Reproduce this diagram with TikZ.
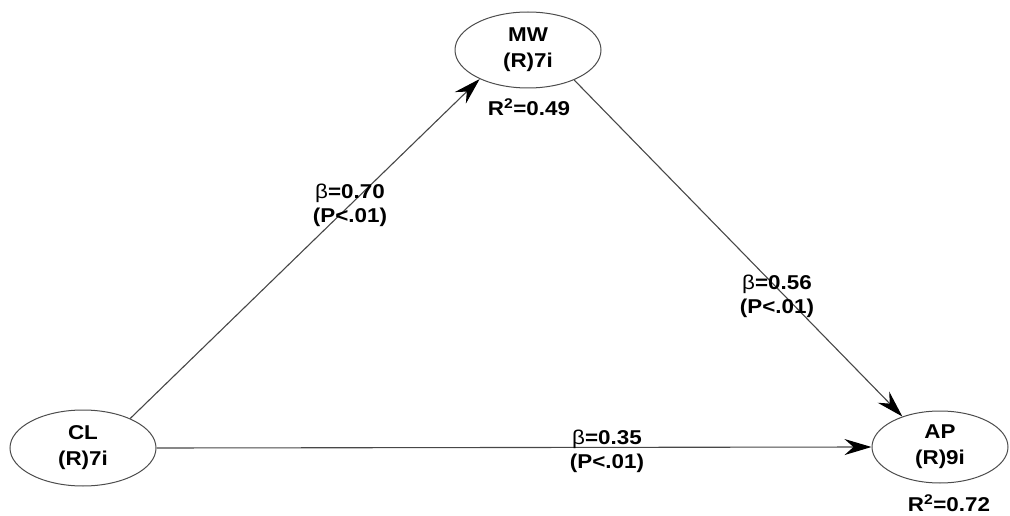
\documentclass[tikz,border=0pt]{standalone}
\usepackage{fontspec}
\setmainfont{Liberation Sans}[FakeStretch=1.12]
\usetikzlibrary{arrows.meta,shapes.geometric}
\begin{document}
\begin{tikzpicture}[x=1pt,y=-1pt,
  latent/.style={ellipse, draw=black!70, line width=1pt, inner sep=0pt,
    minimum width=146pt, minimum height=76pt,
    font=\bfseries\fontsize{20}{26}\selectfont, align=center},
  pathline/.style={draw=black!72, line width=1.1pt,
    -{Stealth[length=27pt,width=16pt,inset=9pt,black]}},
  lab/.style={font=\bfseries\fontsize{20}{24}\selectfont, align=center, inner sep=0pt}]
\useasboundingbox (0,0) rectangle (1010,516);
\node[latent] (MW) at (528,50) {MW\\(R)7i};
\node[latent] (CL) at (83,448) {CL\\(R)7i};
\node[latent, minimum width=136pt, minimum height=72pt] (AP) at (940,447) {AP\\(R)9i};
\draw[pathline] (CL.32) -- (MW.211);
\draw[pathline] (MW.327) -- (AP.141);
\draw[pathline] (CL.east) -- (AP.west);
\node[lab] (l1) at (350,205) {{\mdseries β}=0.70\\(P<.01)};
\node[lab] (l2) at (777,296) {{\mdseries β}=0.56\\(P<.01)};
\node[lab] (l3) at (607,451) {{\mdseries β}=0.35\\(P<.01)};
\node[lab] (r1) at (529,107) {R\textsuperscript{2}=0.49};
\node[lab] (r2) at (949,503) {R\textsuperscript{2}=0.72};
\end{tikzpicture}
\end{document}
